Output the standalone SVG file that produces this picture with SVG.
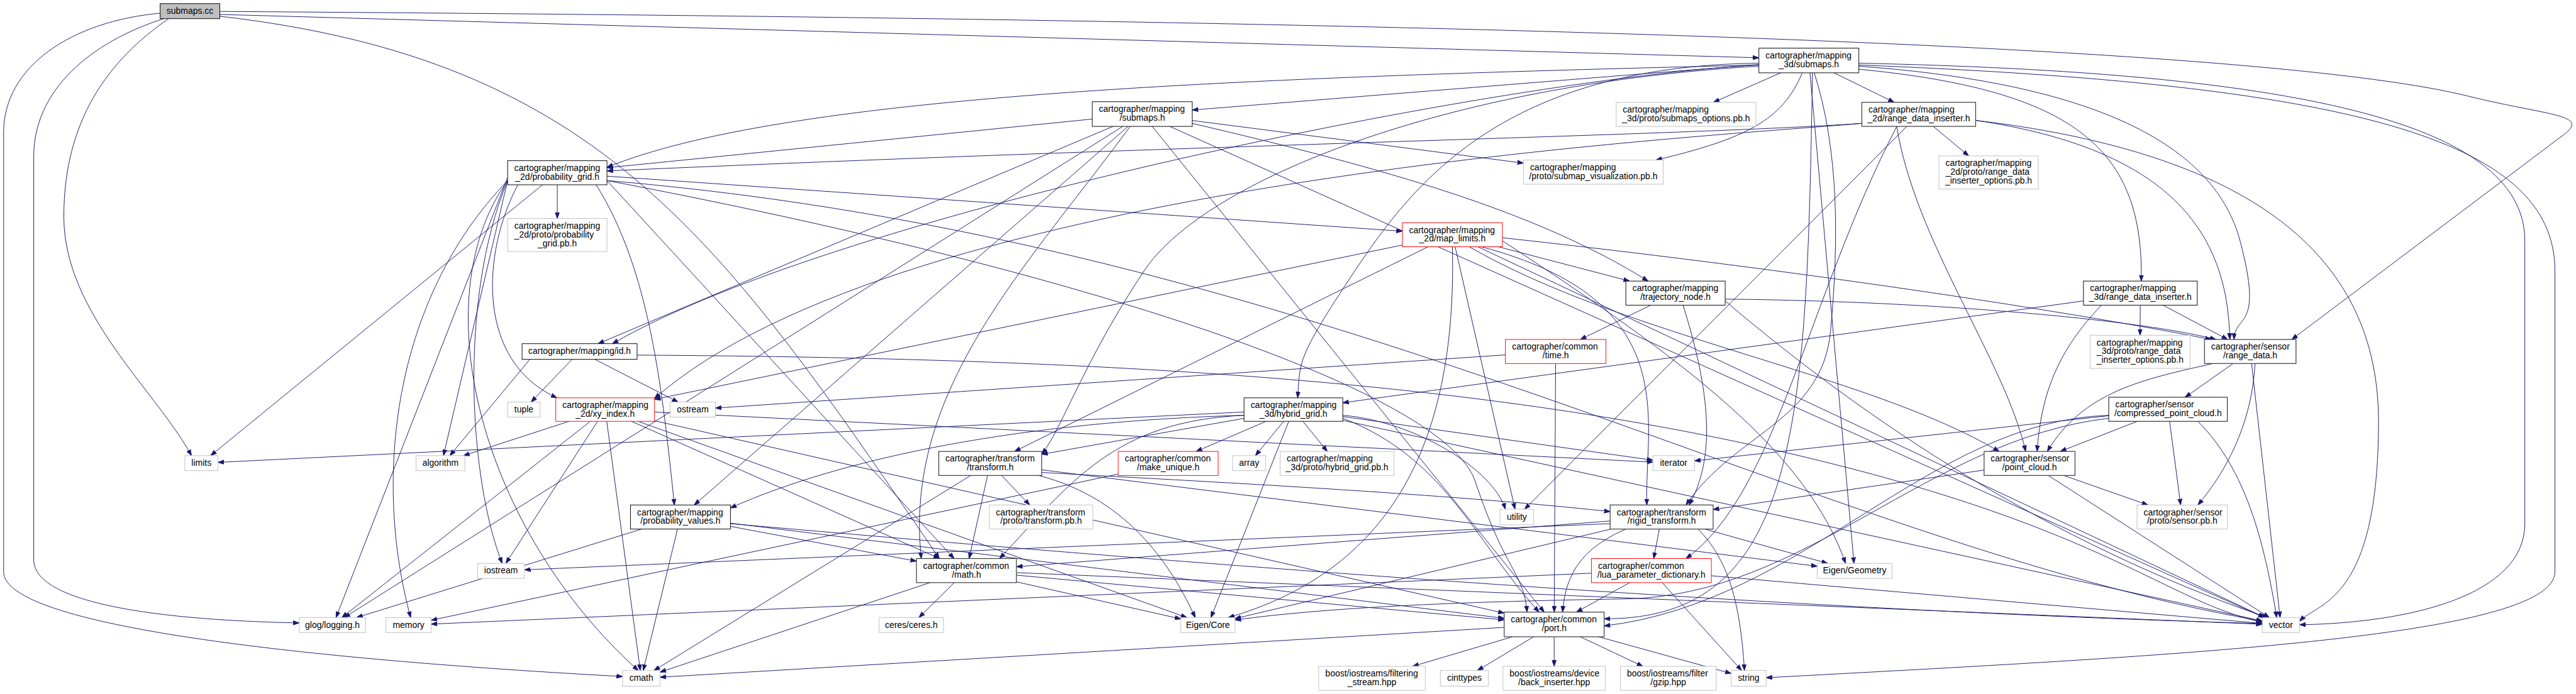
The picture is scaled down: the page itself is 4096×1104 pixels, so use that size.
<svg xmlns="http://www.w3.org/2000/svg" width="4096" height="1104" viewBox="0 0 4096 1104">
<defs>
<style>
.e{fill:none;stroke:#191970;stroke-width:1;marker-end:url(#ah)}
.n rect{fill:#fff;stroke:#000;stroke-width:1}
.x rect{stroke:#bfbfbf}
.r rect{stroke:#ff0000}
.d rect{stroke:#404040;stroke-width:1.3}
.root rect{fill:#bfbfbf}
text{font-family:"Liberation Sans",Arial,Helvetica,sans-serif;font-size:14.6px;fill:#000}
.m{text-anchor:middle}
</style>
<marker id="ah" viewBox="0 0 10 8" markerWidth="10" markerHeight="8" refX="10" refY="4" orient="auto" markerUnits="userSpaceOnUse"><path d="M0,0.5 L10,4 L0,7.5 Z" fill="#191970" stroke="#191970" stroke-width="1"/></marker>
</defs>
<rect width="4096" height="1104" fill="#fff"/>
<g transform="scale(0.95746)">
<g id="edges">
<path class="e" d="M365,24 L2921,96"/>
<path class="e" d="M365,19 C2000,30 3700,60 4100,160 C4230,192 4300,190 4260,222 L3806,564"/>
<path class="e" d="M365,27 C1000,100 1200,400 1560,928"/>
<path class="e" d="M266,22 C120,35 6,110 6,220 L6,950 C6,1040 500,1095 1034,1124"/>
<path class="e" d="M272,31 C150,70 56,150 56,260 L56,930 C56,1000 250,1030 497,1035"/>
<path class="e" d="M280,31 C180,100 106,200 106,360 C106,520 260,650 318,757"/>
<path class="e" d="M3004,100.5 L1980,182.8"/>
<path class="e" d="M2921,108 C2000,130 1300,160 1008,278"/>
<path class="e" d="M3004,100.5 L3145.7,170"/>
<path class="e" d="M3004,100.5 L2845.6,170"/>
<path class="e" d="M2993,121 C2960,200 2900,230 2750,266"/>
<path class="e" d="M3087,115 C3450,150 3560,250 3556,467"/>
<path class="e" d="M2921,105 C2500,110 2350,300 2250,450 S2160,600 2155,661"/>
<path class="e" d="M3087,110 C3500,140 3680,250 3720,400 S3712,520 3710,564"/>
<path class="e" d="M2921,110 C2400,140 2000,300 1900,450 S1760,720 1730,754"/>
<path class="e" d="M3013,121 C3054,250 3054,400 3040,550 S2880,720 2800,839"/>
<path class="e" d="M2921,108 C2500,130 1400,350 1017,571"/>
<path class="e" d="M3010,121 C3000,700 2990,1030 2664,1028"/>
<path class="e" d="M3004,100.5 L3078.9,936"/>
<path class="e" d="M3087,108 C3900,140 4243,230 4243,450 L4243,950 C4243,1060 3600,1090 2933,1126"/>
<path class="e" d="M3087,105 C3800,120 4193,200 4193,400 L4193,870 C4193,990 4000,1035 3819,1038"/>
<path class="e" d="M1897,189.5 L1008,278.7"/>
<path class="e" d="M1897,189.5 L2530,271"/>
<path class="e" d="M1980,205 C2300,280 2550,350 2737,467"/>
<path class="e" d="M1897,189.5 L993.3,571"/>
<path class="e" d="M1897,189.5 L1152.9,839"/>
<path class="e" d="M1877,210 C1700,450 1500,650 1530,928"/>
<path class="e" d="M1897,189.5 L2564.5,1017"/>
<path class="e" d="M1897,189.5 L3760.2,1026"/>
<path class="e" d="M1897,189.5 L571.8,1026"/>
<path class="e" d="M925.5,287 L925.5,363"/>
<path class="e" d="M925.5,287 L2329,384.2"/>
<path class="e" d="M860,307 C800,420 790,600 925,661"/>
<path class="e" d="M990,307 C1080,450 1100,650 1120,839"/>
<path class="e" d="M1008,300 L1584.4,928"/>
<path class="e" d="M1008,300 C1800,450 2400,650 2450,800 S2530,950 2536,1017"/>
<path class="e" d="M925.5,287 L349.8,757"/>
<path class="e" d="M1008,300 C2200,400 3000,900 3757,1032"/>
<path class="e" d="M843,295 L558,1026"/>
<path class="e" d="M843,300 L736.5,757"/>
<path class="e" d="M843,300 C700,500 800,880 1060,1114"/>
<path class="e" d="M843,300 C760,500 780,800 834,936"/>
<path class="e" d="M843,300 C650,500 620,800 682,1026"/>
<path class="e" d="M3092,205 C2800,225 2000,240 1008,284"/>
<path class="e" d="M3186.5,190 L3269.4,259"/>
<path class="e" d="M3092,205 C2800,230 1500,300 1087,662"/>
<path class="e" d="M3150,210 C3000,500 2950,820 2800,928"/>
<path class="e" d="M3150,210 C3180,400 3330,600 3364,750"/>
<path class="e" d="M3281,200 C3620,250 3700,400 3703,564"/>
<path class="e" d="M3186.5,190 L2532,846"/>
<path class="e" d="M3281,200 C3700,250 3950,400 3950,700 S3850,1000 3819,1032"/>
<path class="e" d="M2412,390 L2706.1,467"/>
<path class="e" d="M2412,390 L1087,663.6"/>
<path class="e" d="M2412,390 L2516,846"/>
<path class="e" d="M2412,390 L3761.5,1026"/>
<path class="e" d="M2412,410 C2420,750 2300,950 2040,1026"/>
<path class="e" d="M2495,400 C2800,600 3000,750 3065,936"/>
<path class="e" d="M2440,410 C2700,560 3100,620 3320,750"/>
<path class="e" d="M2495,395 C3000,450 3450,520 3672,564"/>
<path class="e" d="M2460,410 C2800,500 2730,700 2735,839"/>
<path class="e" d="M2412,390 L1684.9,750"/>
<path class="e" d="M2782.5,487 L2624.5,564"/>
<path class="e" d="M2795,507 C2840,650 2850,760 2805,839"/>
<path class="e" d="M2865,497 C3200,500 3550,530 3680,564"/>
<path class="e" d="M2865,500 C3100,700 3400,900 3765,1026"/>
<path class="e" d="M2583.5,584 L2581.1,1017"/>
<path class="e" d="M2583.5,584 L1188,678"/>
<path class="e" d="M3554.5,487 L3554,557"/>
<path class="e" d="M3554.5,487 L3699.4,564"/>
<path class="e" d="M3554.5,487 L2230,669.2"/>
<path class="e" d="M3490,507 C3420,580 3390,650 3383,750"/>
<path class="e" d="M3737,584 L3628.9,660"/>
<path class="e" d="M3675,604 C3560,630 3460,650 3400,750"/>
<path class="e" d="M3745,604 C3740,700 3700,780 3650,839"/>
<path class="e" d="M3737,584 L3786.6,1026"/>
<path class="e" d="M3600.5,680 L3421.6,750"/>
<path class="e" d="M3600.5,680 L2814,765.7"/>
<path class="e" d="M3600.5,680 L3621.4,839"/>
<path class="e" d="M3650,700 C3730,780 3760,900 3781,1026"/>
<path class="e" d="M3502,690 C3200,700 3000,1000 2664,1040"/>
<path class="e" d="M3502,695 C3200,730 3000,990 2700,995 S2200,1010 2051,1030"/>
<path class="e" d="M3370.5,770 L2845,846.5"/>
<path class="e" d="M3370.5,770 L3567,839"/>
<path class="e" d="M3370.5,770 L3768.6,1026"/>
<path class="e" d="M2148,680.5 L2084.8,757"/>
<path class="e" d="M2148,680.5 L1986.5,750"/>
<path class="e" d="M2148,680.5 L2204.3,750"/>
<path class="e" d="M2148,680.5 L2745,764.6"/>
<path class="e" d="M2148,680.5 L362,768.2"/>
<path class="e" d="M2148,680.5 L1730,754.8"/>
<path class="e" d="M2230,690 C2350,700 2480,780 2500,846"/>
<path class="e" d="M2066,690 C1850,700 1780,800 1660,928"/>
<path class="e" d="M2230,695 C2400,760 2450,900 2556,1017"/>
<path class="e" d="M2066,690 C1700,700 1400,760 1213,844"/>
<path class="e" d="M2148,680.5 L3757,1031.7"/>
<path class="e" d="M2148,680.5 L2011,1026"/>
<path class="e" d="M1730,785 C2000,800 2400,820 2674,850"/>
<path class="e" d="M1644.5,770 L1710,839"/>
<path class="e" d="M1644.5,770 L1609.4,928"/>
<path class="e" d="M1644.5,770 L1086.1,1114"/>
<path class="e" d="M1725,790 C1880,830 1950,950 1985,1026"/>
<path class="e" d="M1644.5,770 L3018,940.8"/>
<path class="e" d="M1940,770 L716,1030.5"/>
<path class="e" d="M2759.5,859 L2746.3,928"/>
<path class="e" d="M2759.5,859 L2051,1027.8"/>
<path class="e" d="M2759.5,859 L3035.2,936"/>
<path class="e" d="M2759.5,859 L1688,941.6"/>
<path class="e" d="M2700,879 C2630,910 2600,950 2595,1017"/>
<path class="e" d="M2820,879 C2870,930 2890,1000 2897,1114"/>
<path class="e" d="M2674,870 L871,946.7"/>
<path class="e" d="M2742.5,948 L2618,1017"/>
<path class="e" d="M2742.5,948 L2892.3,1114"/>
<path class="e" d="M2742.5,948 L3757,1035.8"/>
<path class="e" d="M2742.5,948 L716,1036.9"/>
<path class="e" d="M1605,948 L1526.1,1026"/>
<path class="e" d="M1605,948 L1096,1116.7"/>
<path class="e" d="M1605,948 L1961,1028.3"/>
<path class="e" d="M1605,948 L2498,1029.9"/>
<path class="e" d="M1605,948 L3757,1037.2"/>
<path class="e" d="M2581,1037.5 L2346.1,1107"/>
<path class="e" d="M2581,1037.5 L2453.6,1114"/>
<path class="e" d="M2581,1037.5 L2581,1107"/>
<path class="e" d="M2581,1037.5 L2728.2,1107"/>
<path class="e" d="M2581,1037.5 L2875,1119"/>
<path class="e" d="M2581,1037.5 L1096,1125.2"/>
<path class="e" d="M1130,859 L1522,932.4"/>
<path class="e" d="M1130,859 L2498,1027.3"/>
<path class="e" d="M1213,870 Q2800,1010 3757,1036"/>
<path class="e" d="M1130,859 L1068.2,1114"/>
<path class="e" d="M1130,859 L592.3,1026"/>
<path class="e" d="M880,597 L747.1,757"/>
<path class="e" d="M962.5,584 L882,668"/>
<path class="e" d="M962.5,584 L1126.1,668"/>
<path class="e" d="M1058,590 C1900,595 2500,640 3000,760 S3600,1000 3757,1034"/>
<path class="e" d="M1005,680.5 L769.9,757"/>
<path class="e" d="M1005,680.5 L1063.3,1114"/>
<path class="e" d="M1005,680.5 L840.1,936"/>
<path class="e" d="M1005,680.5 L2745,767.8"/>
<path class="e" d="M1005,680.5 L1971,1026"/>
<path class="e" d="M1005,680.5 L1560.1,928"/>
<path class="e" d="M1005,680.5 L2498,1018.7"/>
<path class="e" d="M1005,680.5 L567.8,1026"/>
</g>
<g id="nodes">
<g id="n_submaps_cc" class="n root"><rect x="266" y="6" width="99" height="25"/><text class="m" x="315.5" y="23">submaps.cc</text></g>
<g id="n_mapping_3d_submaps" class="n"><rect x="2921" y="80" width="166" height="41"/><text x="2932" y="97">cartographer/mapping</text><text class="m" x="3004" y="111.5">_3d/submaps.h</text></g>
<g id="n_mapping_submaps" class="n"><rect x="1814" y="169" width="166" height="41"/><text x="1825" y="186">cartographer/mapping</text><text class="m" x="1897" y="200.5">/submaps.h</text></g>
<g id="n_submaps_options_pb" class="n x"><rect x="2684" y="170" width="232" height="40"/><text x="2695" y="187">cartographer/mapping</text><text class="m" x="2800" y="201.5">_3d/proto/submaps_options.pb.h</text></g>
<g id="n_2d_range_data_inserter" class="n d"><rect x="3092" y="170" width="189" height="40"/><text x="3103" y="187">cartographer/mapping</text><text class="m" x="3186.5" y="201.5">_2d/range_data_inserter.h</text></g>
<g id="n_probability_grid" class="n"><rect x="843" y="267" width="165" height="40"/><text x="854" y="284">cartographer/mapping</text><text class="m" x="925.5" y="298.5">_2d/probability_grid.h</text></g>
<g id="n_submap_visualization_pb" class="n x"><rect x="2530" y="266" width="232" height="40"/><text x="2541" y="283">cartographer/mapping</text><text class="m" x="2646" y="297.5">/proto/submap_visualization.pb.h</text></g>
<g id="n_2d_rdi_options_pb" class="n x"><rect x="3220" y="259" width="165" height="55"/><text x="3231" y="276">cartographer/mapping</text><text x="3231" y="290.5">_2d/proto/range_data</text><text class="m" x="3302.5" y="305">_inserter_options.pb.h</text></g>
<g id="n_probability_grid_pb" class="n x"><rect x="843" y="363" width="165" height="55"/><text x="854" y="380">cartographer/mapping</text><text x="854" y="394.5">_2d/proto/probability</text><text class="m" x="925.5" y="409">_grid.pb.h</text></g>
<g id="n_map_limits" class="n r"><rect x="2329" y="370" width="166" height="40"/><text x="2340" y="387">cartographer/mapping</text><text class="m" x="2412" y="401.5">_2d/map_limits.h</text></g>
<g id="n_trajectory_node" class="n"><rect x="2700" y="467" width="165" height="40"/><text x="2711" y="484">cartographer/mapping</text><text class="m" x="2782.5" y="498.5">/trajectory_node.h</text></g>
<g id="n_3d_range_data_inserter" class="n"><rect x="3460" y="467" width="189" height="40"/><text x="3471" y="484">cartographer/mapping</text><text class="m" x="3554.5" y="498.5">_3d/range_data_inserter.h</text></g>
<g id="n_id" class="n"><rect x="867" y="571" width="191" height="26"/><text class="m" x="962.5" y="588.5">cartographer/mapping/id.h</text></g>
<g id="n_time" class="n r"><rect x="2500" y="564" width="167" height="40"/><text x="2511" y="581">cartographer/common</text><text class="m" x="2583.5" y="595.5">/time.h</text></g>
<g id="n_range_data" class="n d"><rect x="3661" y="564" width="152" height="40"/><text x="3672" y="581">cartographer/sensor</text><text class="m" x="3737" y="595.5">/range_data.h</text></g>
<g id="n_3d_rdi_options_pb" class="n x"><rect x="3471" y="557" width="166" height="55"/><text x="3482" y="574">cartographer/mapping</text><text x="3482" y="588.5">_3d/proto/range_data</text><text class="m" x="3554" y="603">_inserter_options.pb.h</text></g>
<g id="n_tuple" class="n x"><rect x="843" y="668" width="54" height="25"/><text class="m" x="870" y="685">tuple</text></g>
<g id="n_xy_index" class="n r"><rect x="923" y="661" width="164" height="39"/><text x="934" y="678">cartographer/mapping</text><text class="m" x="1005" y="692.5">_2d/xy_index.h</text></g>
<g id="n_ostream" class="n x"><rect x="1113" y="668" width="75" height="25"/><text class="m" x="1150.5" y="685">ostream</text></g>
<g id="n_hybrid_grid" class="n"><rect x="2066" y="661" width="164" height="39"/><text x="2077" y="678">cartographer/mapping</text><text class="m" x="2148" y="692.5">_3d/hybrid_grid.h</text></g>
<g id="n_compressed_point_cloud" class="n"><rect x="3502" y="660" width="197" height="40"/><text x="3513" y="677">cartographer/sensor</text><text class="m" x="3600.5" y="691.5">/compressed_point_cloud.h</text></g>
<g id="n_limits" class="n x"><rect x="307" y="757" width="55" height="25"/><text class="m" x="334.5" y="774">limits</text></g>
<g id="n_algorithm" class="n x"><rect x="691" y="757" width="81" height="25"/><text class="m" x="731.5" y="774">algorithm</text></g>
<g id="n_transform" class="n d"><rect x="1559" y="750" width="171" height="40"/><text x="1570" y="767">cartographer/transform</text><text class="m" x="1644.5" y="781.5">/transform.h</text></g>
<g id="n_make_unique" class="n r"><rect x="1857" y="750" width="166" height="40"/><text x="1868" y="767">cartographer/common</text><text class="m" x="1940" y="781.5">/make_unique.h</text></g>
<g id="n_array" class="n x"><rect x="2047" y="757" width="55" height="25"/><text class="m" x="2074.5" y="774">array</text></g>
<g id="n_hybrid_grid_pb" class="n x"><rect x="2126" y="750" width="189" height="40"/><text x="2137" y="767">cartographer/mapping</text><text class="m" x="2220.5" y="781.5">_3d/proto/hybrid_grid.pb.h</text></g>
<g id="n_iterator" class="n x"><rect x="2745" y="757" width="69" height="25"/><text class="m" x="2779.5" y="774">iterator</text></g>
<g id="n_point_cloud" class="n d"><rect x="3295" y="750" width="151" height="40"/><text x="3306" y="767">cartographer/sensor</text><text class="m" x="3370.5" y="781.5">/point_cloud.h</text></g>
<g id="n_probability_values" class="n"><rect x="1047" y="839" width="166" height="40"/><text x="1058" y="856">cartographer/mapping</text><text class="m" x="1130" y="870.5">/probability_values.h</text></g>
<g id="n_transform_pb" class="n x"><rect x="1643" y="839" width="172" height="40"/><text x="1654" y="856">cartographer/transform</text><text class="m" x="1729" y="870.5">/proto/transform.pb.h</text></g>
<g id="n_utility" class="n x"><rect x="2491" y="846" width="56" height="26"/><text class="m" x="2519" y="863.5">utility</text></g>
<g id="n_rigid_transform" class="n d"><rect x="2674" y="839" width="171" height="40"/><text x="2685" y="856">cartographer/transform</text><text class="m" x="2759.5" y="870.5">/rigid_transform.h</text></g>
<g id="n_sensor_pb" class="n x"><rect x="3549" y="839" width="150" height="40"/><text x="3560" y="856">cartographer/sensor</text><text class="m" x="3624" y="870.5">/proto/sensor.pb.h</text></g>
<g id="n_iostream" class="n x"><rect x="793" y="936" width="78" height="25"/><text class="m" x="832" y="953">iostream</text></g>
<g id="n_math" class="n d"><rect x="1522" y="928" width="166" height="40"/><text x="1533" y="945">cartographer/common</text><text class="m" x="1605" y="959.5">/math.h</text></g>
<g id="n_lua_parameter_dictionary" class="n r"><rect x="2643" y="928" width="199" height="40"/><text x="2654" y="945">cartographer/common</text><text class="m" x="2742.5" y="959.5">/lua_parameter_dictionary.h</text></g>
<g id="n_eigen_geometry" class="n x"><rect x="3018" y="936" width="124" height="25"/><text class="m" x="3080" y="953">Eigen/Geometry</text></g>
<g id="n_glog" class="n x"><rect x="497" y="1026" width="110" height="25"/><text class="m" x="552" y="1043">glog/logging.h</text></g>
<g id="n_memory" class="n x"><rect x="641" y="1026" width="75" height="25"/><text class="m" x="678.5" y="1043">memory</text></g>
<g id="n_ceres" class="n x"><rect x="1460" y="1026" width="107" height="25"/><text class="m" x="1513.5" y="1043">ceres/ceres.h</text></g>
<g id="n_eigen_core" class="n x"><rect x="1961" y="1026" width="90" height="25"/><text class="m" x="2006" y="1043">Eigen/Core</text></g>
<g id="n_port" class="n d"><rect x="2498" y="1017" width="166" height="41"/><text x="2509" y="1034">cartographer/common</text><text class="m" x="2581" y="1048.5">/port.h</text></g>
<g id="n_vector" class="n x"><rect x="3757" y="1026" width="62" height="25"/><text class="m" x="3788" y="1043">vector</text></g>
<g id="n_cmath" class="n x"><rect x="1034" y="1114" width="62" height="26"/><text class="m" x="1065" y="1131.5">cmath</text></g>
<g id="n_filtering_stream" class="n x"><rect x="2190" y="1107" width="177" height="40"/><text x="2201" y="1124">boost/iostreams/filtering</text><text class="m" x="2278.5" y="1138.5">_stream.hpp</text></g>
<g id="n_cinttypes" class="n x"><rect x="2392" y="1114" width="80" height="26"/><text class="m" x="2432" y="1131.5">cinttypes</text></g>
<g id="n_back_inserter" class="n x"><rect x="2496" y="1107" width="170" height="40"/><text x="2507" y="1124">boost/iostreams/device</text><text class="m" x="2581" y="1138.5">/back_inserter.hpp</text></g>
<g id="n_gzip" class="n x"><rect x="2691" y="1107" width="159" height="40"/><text x="2702" y="1124">boost/iostreams/filter</text><text class="m" x="2770.5" y="1138.5">/gzip.hpp</text></g>
<g id="n_string" class="n x"><rect x="2875" y="1114" width="58" height="26"/><text class="m" x="2904" y="1131.5">string</text></g>
</g>
</g>
</svg>
